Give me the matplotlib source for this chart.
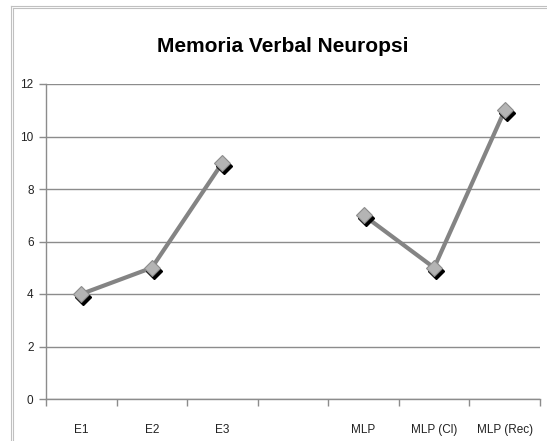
import numpy as np
import matplotlib
matplotlib.use("Agg")
import matplotlib.pyplot as plt
from matplotlib.transforms import ScaledTranslation

categories = ["E1", "E2", "E3", "", "MLP", "MLP (Cl)", "MLP (Rec)"]
values = [4, 5, 9, np.nan, 7, 5, 11]
yticks = [0, 2, 4, 6, 8, 10, 12]
title = "Memoria Verbal Neuropsi"

plt.rcParams['font.family'] = ['Liberation Sans Narrow', 'Liberation Sans', 'DejaVu Sans']

fig = plt.figure(figsize=(5.47, 4.41), dpi=100)
W, H = 547, 441
ax = fig.add_axes([46 / W, (H - 399) / H, 494 / W, 315 / H])

x = np.arange(len(categories))
vals = np.array(values, dtype=float)

# line
ax.plot(x, vals, color="#848484", lw=3.0, solid_capstyle="round", zorder=3)
# shadow markers
shadow = ax.transData + ScaledTranslation(2 / 100, -3 / 100, fig.dpi_scale_trans)
ax.plot(x, vals, ls="none", marker="D", ms=8, color="#000000", mec="#000000",
        transform=shadow, zorder=4)
ax.plot(x, vals, ls="none", marker="D", ms=8, color="#b4b4b4", mec="#8c8c8c",
        mew=0.8, zorder=5)

ax.set_xlim(-0.5, len(categories) - 0.5)
ax.set_ylim(0, 12)
ax.set_yticks(yticks)
ax.set_yticklabels([str(v) for v in yticks])
ax.yaxis.grid(True, color="#8c8c8c", lw=1.0)
ax.set_axisbelow(True)

ax.set_xticks(np.arange(-0.5, len(categories) + 0.5, 1.0))
ax.set_xticklabels([])
ax.set_xticks(x, minor=True)
ax.set_xticklabels(categories, minor=True)
ax.tick_params(axis="x", which="major", length=5, color="#8c8c8c", width=1)
ax.tick_params(axis="x", which="minor", length=0, pad=18, labelsize=8.5, labelcolor="#222222")
ax.tick_params(axis="y", length=5, color="#8c8c8c", width=1, pad=4, labelsize=8.5, labelcolor="#222222")

for s in ["top", "right"]:
    ax.spines[s].set_visible(False)
for s in ["left", "bottom"]:
    ax.spines[s].set_color("#8c8c8c")
    ax.spines[s].set_linewidth(1.0)

fig.text(283 / W, 1 - 46 / H, title, ha="center", va="center", fontsize=15,
         fontweight="bold", color="#000000")

# chart border (double line on top and left)
for off, col in [(11, "#c0c0c0"), (13, "#c0c0c0")]:
    fig.add_artist(plt.Line2D([off / W, 1.0], [1 - (off - 5) / H, 1 - (off - 5) / H],
                              transform=fig.transFigure, color=col, lw=0.8))
    fig.add_artist(plt.Line2D([off / W, off / W], [0, 1 - (off - 5) / H],
                              transform=fig.transFigure, color=col, lw=0.8))

fig.savefig("out.png", dpi=100)
